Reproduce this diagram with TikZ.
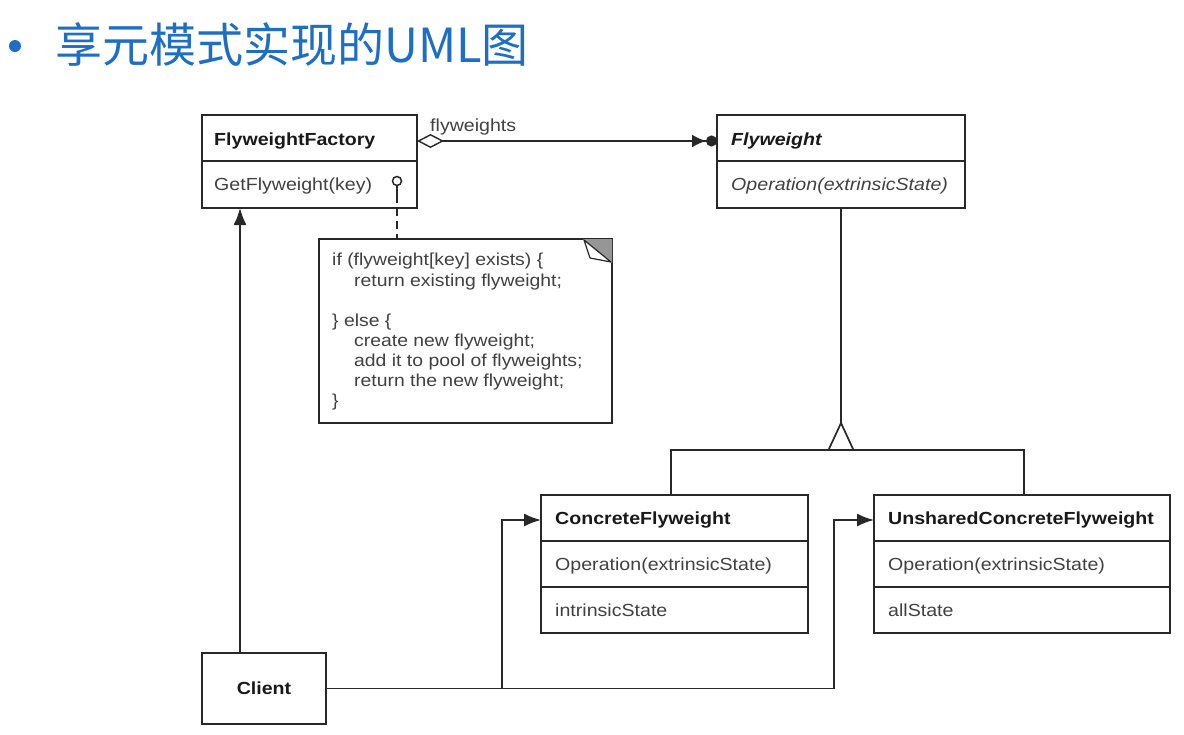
\documentclass[tikz,border=0pt]{standalone}
\usepackage{fontspec}
\usetikzlibrary{arrows.meta,calc}
\newfontfamily\uf[FakeStretch=1.12]{Liberation Sans}
\newfontfamily\cjk{Noto Sans CJK SC}
\definecolor{linec}{RGB}{40,40,40}
\definecolor{txtc}{RGB}{25,25,25}
\definecolor{optc}{RGB}{65,65,65}
\definecolor{titleblue}{RGB}{30,110,195}
\definecolor{foldgray}{RGB}{150,150,150}
\tikzset{
  umlbox/.style={draw=linec, line width=1.8pt, fill=white, inner sep=0pt, outer sep=0pt, anchor=north west},
  lbl/.style={anchor=base west, inner sep=0pt, text=optc, font=\uf\fontsize{17.5}{20}\selectfont},
  lblb/.style={anchor=base west, inner sep=0pt, text=txtc, font=\uf\bfseries\fontsize{17.5}{20}\selectfont},
  notetxt/.style={anchor=base west, inner sep=0pt, text=optc, font=\uf\fontsize{17.3}{20}\selectfont},
  conn/.style={draw=linec, line width=1.7pt},
  divline/.style={draw=linec, line width=1.6pt},
  navi/.style={-{Latex[length=17pt,width=13pt]}},
}
\begin{document}
\begin{tikzpicture}[x=1pt,y=-1pt]
\fill[white] (0,0) rectangle (1184,734);
\useasboundingbox (0,0) rectangle (1184,734);

% title
\node[circle, fill=titleblue, minimum size=12pt, inner sep=0pt] (bullet) at (15,46) {};
\node[anchor=west, inner sep=0pt, text=titleblue, font=\cjk\fontsize{47}{50}\selectfont] (title) at (55,45) {享元模式实现的UML图};

% boxes
\node[umlbox, minimum width=215pt, minimum height=93pt] (ff) at (202,115) {};
\draw[divline] (202,161) -- (417,161);
\node[lblb] (ffn) at (214,145) {FlyweightFactory};
\node[lbl] (ffo) at (214,190) {GetFlyweight(key)};

\node[umlbox, minimum width=248pt, minimum height=93pt] (fw) at (717,115) {};
\draw[divline] (717,161) -- (965,161);
\node[lblb] (fwn) at (731,145) {\itshape Flyweight};
\node[lbl] (fwo) at (731,190) {\itshape Operation(extrinsicState)};

\node[umlbox, minimum width=267pt, minimum height=138pt] (cf) at (541,495) {};
\draw[divline] (541,541) -- (808,541);
\draw[divline] (541,587) -- (808,587);
\node[lblb] (cfn) at (555,524) {ConcreteFlyweight};
\node[lbl] (cfo) at (555,570) {Operation(extrinsicState)};
\node[lbl] (cfa) at (555,616) {intrinsicState};

\node[umlbox, minimum width=296pt, minimum height=138pt] (ucf) at (874,495) {};
\draw[divline] (874,541) -- (1170,541);
\draw[divline] (874,587) -- (1170,587);
\node[lblb] (ucfn) at (888,524) {UnsharedConcreteFlyweight};
\node[lbl] (ucfo) at (888,570) {Operation(extrinsicState)};
\node[lbl] (ucfa) at (888,616) {allState};

\node[umlbox, minimum width=124pt, minimum height=71pt, text=txtc, font=\uf\bfseries\fontsize{17.5}{20}\selectfont] (client) at (202,653) {Client};

% note
\node[umlbox, minimum width=293pt, minimum height=184pt] (note) at (319,239) {};
\fill[foldgray] (583,239) -- (612,239) -- (612,263) -- cycle;
\draw[draw=linec, line width=1.2pt, fill=white, line join=round] (584,240) -- (590,258) -- (611,262) -- cycle;
\node[notetxt] (n1) at (332,265) {if (flyweight[key] exists) \{};
\node[notetxt] (n2) at (354,286) {return existing flyweight;};
\node[notetxt] (n3) at (332,326) {\} else \{};
\node[notetxt] (n4) at (354,346) {create new flyweight;};
\node[notetxt] (n5) at (354,366) {add it to pool of flyweights;};
\node[notetxt] (n6) at (354,386) {return the new flyweight;};
\node[notetxt] (n7) at (332,406) {\}};

% lollipop + dashed link to note
\node[circle, draw=linec, line width=1.5pt, fill=white, minimum size=9pt, inner sep=0pt] (lp) at (397,181) {};
\draw[conn] (lp.south) -- ++(0,9) coordinate (lpd);
\draw[conn, dash pattern=on 8pt off 5pt] (lpd) -- (lp.south |- note.north);

% aggregation
\draw[conn, {Diamond[open,length=27pt,width=14pt,line width=1.4pt]}-{Latex[length=14pt,width=13pt]Circle[length=11pt]}]
  ([yshift=-26pt]ff.north east) -- ([yshift=-26pt]fw.north west);
\node[lbl] (aggl) at (430,131) {flyweights};

% inheritance
\coordinate (tri) at (fw.south |- 0,423);
\coordinate (bar) at (fw.south |- 0,450);
\draw[conn] (fw.south) -- (tri);
\draw[conn, fill=white, line join=miter] (tri) -- ($(bar)+(-12.5,0)$) -- ($(bar)+(12.5,0)$) -- cycle;
\draw[conn] ([xshift=130pt]cf.north west) |- (bar) -| ([xshift=150pt]ucf.north west);

% client links
\draw[conn, navi] ([xshift=38pt]client.north west) -- ([xshift=38pt]ff.south west);
\coordinate (j1) at (502,520);
\coordinate (j2) at (834,520);
\draw[conn, navi] (client.east) -| (j1) -- (cf.west |- j1);
\draw[conn, navi] (client.east) -| (j2) -- (ucf.west |- j2);
\end{tikzpicture}
\end{document}
